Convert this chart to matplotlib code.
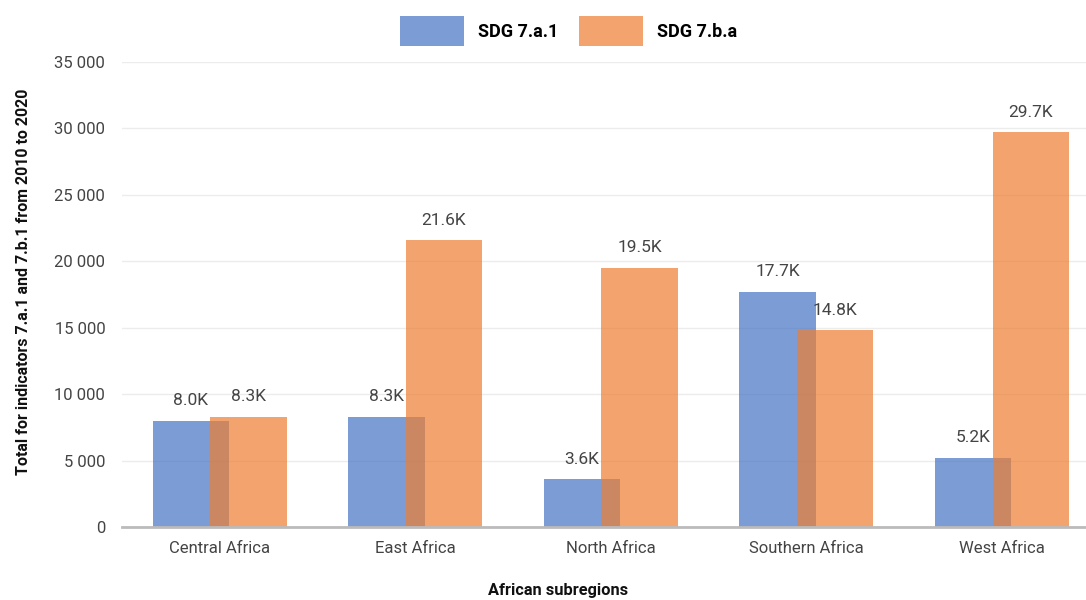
import matplotlib
matplotlib.use('Agg')
import matplotlib.pyplot as plt
import numpy as np
from matplotlib.ticker import FuncFormatter

regions = ['Central Africa', 'East Africa', 'North Africa', 'Southern Africa', 'West Africa']
sdg_7a1 = [8000, 8300, 3600, 17700, 5200]
sdg_7ba = [8300, 21600, 19500, 14800, 29700]
series_names = ['SDG 7.a.1', 'SDG 7.b.a']

plt.rcParams['font.family'] = ['Roboto', 'DejaVu Sans']
bold_font = ['Liberation Sans Narrow', 'Roboto', 'DejaVu Sans']

fig = plt.figure(figsize=(10.86, 6), dpi=100)
ax = fig.add_axes([0.1123, 0.1217, 0.8877, 0.775])

x = np.arange(len(regions))
width = 0.39
offset = 0.147

bars1 = ax.bar(x - offset, sdg_7a1, width, color='#4472c4', alpha=0.7,
               label=series_names[0], zorder=2)
bars2 = ax.bar(x + offset, sdg_7ba, width, color='#ed7d31', alpha=0.7,
               label=series_names[1], zorder=3)

# value labels
for bars in [bars1, bars2]:
    for bar in bars:
        h = bar.get_height()
        ax.annotate(f'{h/1000:.1f}K', (bar.get_x() + bar.get_width() / 2, h),
                    xytext=(0, 9), textcoords='offset points',
                    ha='center', va='bottom', fontsize=12.5, color='#444444', zorder=5)

ax.set_ylim(0, 35000)
ax.set_xlim(-0.5, 4.43)
ax.set_yticks(np.arange(0, 35001, 5000))
ax.yaxis.set_major_formatter(FuncFormatter(lambda v, p: f'{int(v):,}'.replace(',', ' ')))
ax.set_xticks(x)
ax.set_xticklabels(regions)
ax.tick_params(axis='both', length=0, labelsize=12, labelcolor='#444444')
ax.tick_params(axis='y', pad=12)
ax.tick_params(axis='x', pad=10)

ax.grid(axis='y', color='#ececec', linewidth=1, zorder=0)
ax.set_axisbelow(True)
for s in ['top', 'right', 'left']:
    ax.spines[s].set_visible(False)
ax.spines['bottom'].set_color('#bbbbbb')
ax.spines['bottom'].set_linewidth(2)
ax.spines['bottom'].set_zorder(4)

fig.text(0.022, 0.53, 'Total for indicators 7.a.1 and 7.b.1 from 2010 to 2020',
         rotation=90, ha='center', va='center', fontsize=11.5, fontweight='bold',
         family=bold_font, color='#111111')
fig.text(0.514, 0.015, 'African subregions', ha='center', va='center',
         fontsize=11.8, fontweight='bold', family=bold_font, color='#111111')

leg = fig.legend(handles=[bars1, bars2], labels=series_names, loc='upper center',
                 bbox_to_anchor=(0.5235, 1.0), ncol=2, frameon=False,
                 handlelength=3.55, handleheight=2.2, handletextpad=0.77, columnspacing=1.16,
                 prop={'family': bold_font, 'weight': 'bold', 'size': 13})

plt.savefig('out.png', dpi=100)
